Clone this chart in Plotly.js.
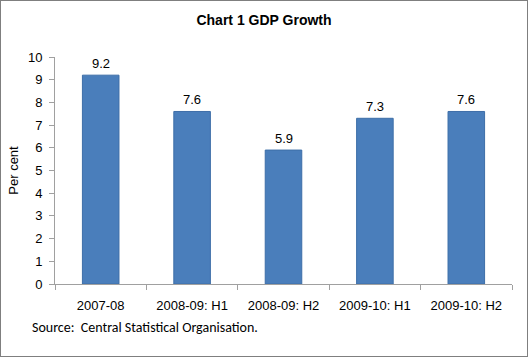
<!DOCTYPE html>
<html><head><meta charset="utf-8">
<script src="https://cdn.plot.ly/plotly-3.0.1.min.js"></script>
<style>
html,body{margin:0;padding:0;background:#fff;}
#chart{width:528px;height:357px;box-sizing:border-box;border:1px solid #7f7f7f;}
</style></head>
<body><div id="chart"></div>
<script>
const categories = ["2007-08", "2008-09: H1", "2008-09: H2", "2009-10: H1", "2009-10: H2"];
const growth = [9.2, 7.6, 5.9, 7.3, 7.6];
const labels = ["9.2", "7.6", "5.9", "7.3", "7.6"];

const font = "Liberation Sans, Arial, sans-serif";

const trace = {
  type: "bar",
  x: categories,
  y: growth,
  marker: {color: "#4a7ebb", line: {color: "#3d6ea8", width: 1}},
  hoverinfo: "skip"
};

const valueLabels = categories.map((c, i) => ({
  x: c, y: growth[i], xref: "x", yref: "y",
  text: labels[i], showarrow: false,
  xanchor: "center", yanchor: "middle", yshift: 12,
  font: {family: font, size: 13, color: "#000"}
}));

const layout = {
  width: 526, height: 355,
  margin: {l: 54, r: 15, t: 56, b: 72},
  paper_bgcolor: "#fff", plot_bgcolor: "#fff",
  showlegend: false,
  bargap: 0.6,
  title: {text: "<b>Chart 1 GDP Growth</b>", x: 0.5, xanchor: "center", y: 0.945, yanchor: "middle",
          font: {family: font, size: 14, color: "#000"}},
  xaxis: {
    type: "category",
    showline: true, linecolor: "#a0a0a0", linewidth: 1,
    ticks: "outside", tickson: "boundaries", ticklen: 5, tickcolor: "#a0a0a0",
    ticklabelstandoff: 9,
    tickfont: {family: font, size: 13, color: "#000"},
    showgrid: false, zeroline: false
  },
  yaxis: {
    range: [0, 10], dtick: 1,
    showline: true, linecolor: "#a0a0a0", linewidth: 1,
    ticks: "outside", ticklen: 5, tickcolor: "#a0a0a0",
    ticklabelstandoff: 4,
    tickfont: {family: font, size: 13, color: "#000"},
    showgrid: false, zeroline: false,
    title: {text: "Per cent", standoff: 6, font: {family: font, size: 13, color: "#000"}}
  },
  annotations: valueLabels.concat([{
    text: "Source:  Central Statistical Organisation.",
    xref: "paper", yref: "paper", x: -0.055, y: -0.19,
    xanchor: "left", yanchor: "middle", showarrow: false,
    font: {family: "Carlito, 'Open Sans', sans-serif", size: 14, color: "#000"}
  }])
};

Plotly.newPlot("chart", [trace], layout, {staticPlot: true, displayModeBar: false});
</script></body></html>
